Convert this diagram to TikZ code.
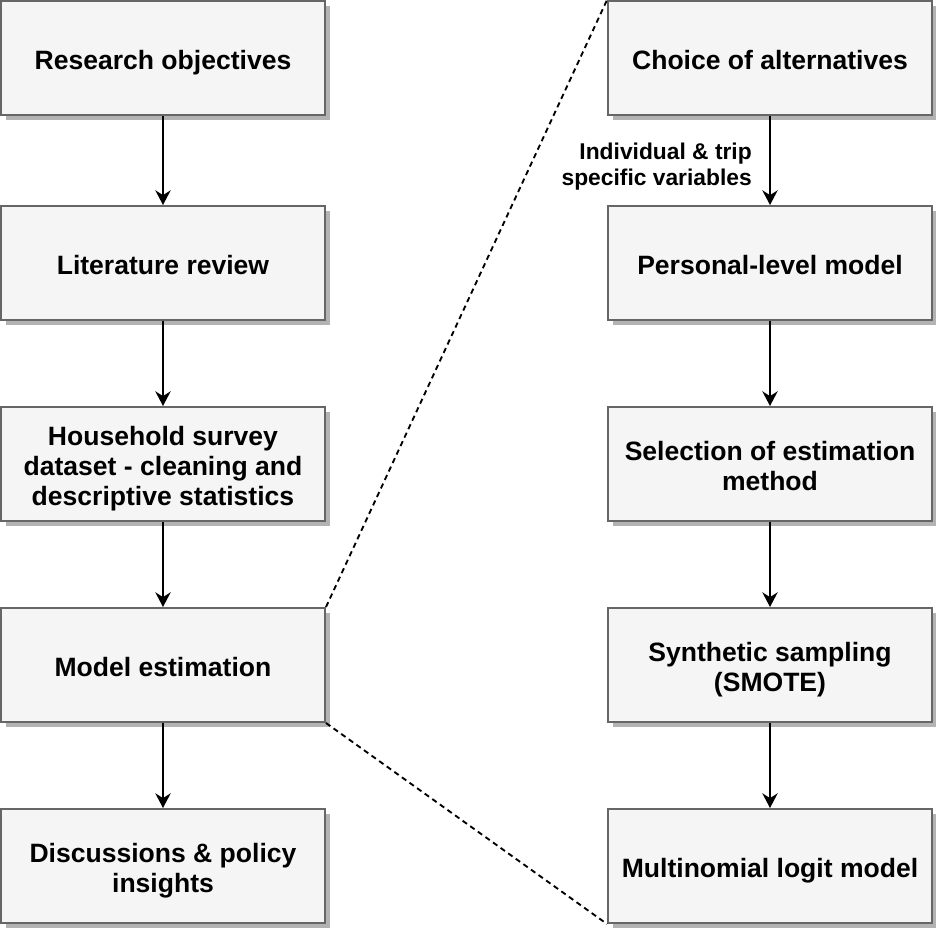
\documentclass[tikz,border=0pt]{standalone}
\usepackage{fontspec}
\setmainfont{Liberation Sans}
\usetikzlibrary{arrows.meta,shadows}

\definecolor{boxline}{RGB}{102,102,102}
\definecolor{boxfill}{RGB}{245,245,245}
\definecolor{boxshade}{RGB}{179,179,179}

\newcommand{\boxstrut}{\rule{0pt}{21.5pt}}

\tikzset{
  stepbox/.style={draw=boxline, fill=boxfill, line width=1.5pt,
    minimum width=243pt, minimum height=85.5pt, inner sep=0pt, align=center,
    font=\fontsize{19.9}{22.5}\selectfont\bfseries,
    execute at begin node={\boxstrut},
    execute at end node={\rule[-4.5pt]{0pt}{4.5pt}},
    drop shadow={shadow xshift=3.75pt, shadow yshift=-3.75pt, fill=boxshade, opacity=1}},
  flow/.style={line width=1.5pt, -{Stealth[length=11pt,width=11.5pt]}},
  zoomline/.style={line width=1.4pt, dash pattern=on 4pt off 3pt}
}

\begin{document}
\begin{tikzpicture}[x=0.75pt,y=0.75pt,yscale=-1,xscale=1]
        \useasboundingbox (0,0) rectangle (936,930);

        % Left column
        \node[stepbox] (obj) at (163,58) {Research objectives};
        \node[stepbox] (lit) at (163,263) {Literature review};
        \node[stepbox] (hh) at (163,464) {\boxstrut Household survey\\dataset - cleaning and\\descriptive statistics};
        \node[stepbox] (est) at (163,665) {Model estimation};
        \node[stepbox] (disc) at (163,866) {\boxstrut Discussions \& policy\\insights};

        % Right column
        \node[stepbox] (alt) at (770,58) {Choice of alternatives};
        \node[stepbox] (pers) at (770,263) {Personal-level model};
        \node[stepbox] (meth) at (770,464) {\boxstrut Selection of estimation\\method};
        \node[stepbox] (smote) at (770,665) {\boxstrut Synthetic sampling\\(SMOTE)};
        \node[stepbox] (mnl) at (770,866) {Multinomial logit model};

        % Arrows
        \draw[flow] (obj) -- (lit);
        \draw[flow] (lit) -- (hh);
        \draw[flow] (hh) -- (est);
        \draw[flow] (est) -- (disc);
        \draw[flow] (alt) -- (pers);
        \draw[flow] (pers) -- (meth);
        \draw[flow] (meth) -- (smote);
        \draw[flow] (smote) -- (mnl);

        % Text Node
        \node[anchor=east, align=right, inner sep=0pt, font=\fontsize{17.1}{19.5}\selectfont\bfseries] (vars) at (752,167) {Individual \& trip\\specific variables};

        % Zoom lines
        \draw[zoomline] (est.north east) -- (alt.north west);
        \draw[zoomline] (est.south east) -- (mnl.south west);
\end{tikzpicture}
\end{document}
